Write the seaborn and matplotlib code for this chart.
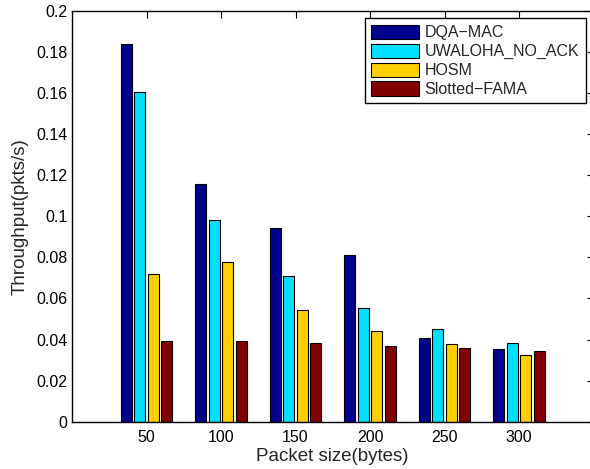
import pandas as pd
import matplotlib
matplotlib.use("Agg")
import matplotlib.pyplot as plt
import seaborn as sns

packet_sizes = ['50', '100', '150', '200', '250', '300']
protocols = ['DQA\u2212MAC', 'UWALOHA_NO_ACK', 'HOSM', 'Slotted\u2212FAMA']
dqa_mac = [0.1838, 0.1156, 0.0942, 0.0812, 0.0406, 0.0354]
uwaloha = [0.1606, 0.0981, 0.0708, 0.0554, 0.0453, 0.0383]
hosm = [0.0718, 0.0776, 0.0545, 0.0443, 0.0377, 0.0325]
slotted_fama = [0.0391, 0.0394, 0.0382, 0.0367, 0.0360, 0.0346]
colors = ['#00008F', '#00DFFF', '#FFCF00', '#800000']
y_ticks = [0, 0.02, 0.04, 0.06, 0.08, 0.1, 0.12, 0.14, 0.16, 0.18, 0.2]

rows = []
for name, vals in zip(protocols, [dqa_mac, uwaloha, hosm, slotted_fama]):
    for s, v in zip(packet_sizes, vals):
        rows.append({'size': s, 'throughput': v, 'protocol': name})
df = pd.DataFrame(rows)

sns.set_style("white")
plt.rcParams['font.family'] = ['Liberation Sans', 'DejaVu Sans']

fig = plt.figure(figsize=(5.9, 4.69), dpi=100)
ax = fig.add_axes([72 / 590, 0.1009, 521.5 / 590, 0.8757])

sns.barplot(data=df, x='size', y='throughput', hue='protocol', order=packet_sizes,
            hue_order=protocols, palette=colors, saturation=1, width=0.727, gap=0.2,
            edgecolor='black', linewidth=0.8, errorbar=None, ax=ax)

ax.set_xlim(-1, 6)
ax.set_ylim(0, 0.2)
ax.set_yticks(y_ticks)
ax.set_yticklabels([f'{v:g}' for v in y_ticks])
ax.tick_params(direction='in', top=True, right=True, length=5, width=0.8,
               labelsize=11.5, colors='black')
ax.tick_params(axis='x', pad=5.8)
for sp in ax.spines.values():
    sp.set_visible(True)
    sp.set_color('black')
    sp.set_linewidth(1.0)

ax.set_xlabel('Packet size(bytes)', fontsize=13.5, labelpad=2.5)
ax.set_ylabel('Throughput(pkts/s)', fontsize=13.5, labelpad=5.5)

leg = ax.legend(loc='upper right', bbox_to_anchor=(0.985, 0.982), borderaxespad=0,
                fontsize=11.5, fancybox=False, edgecolor='black', framealpha=1,
                handlelength=3.0, handleheight=1.0, handletextpad=0.35,
                labelspacing=0.2, borderpad=0.4, title=None)
leg.get_frame().set_linewidth(1.0)

fig.savefig('out.png', dpi=100)
